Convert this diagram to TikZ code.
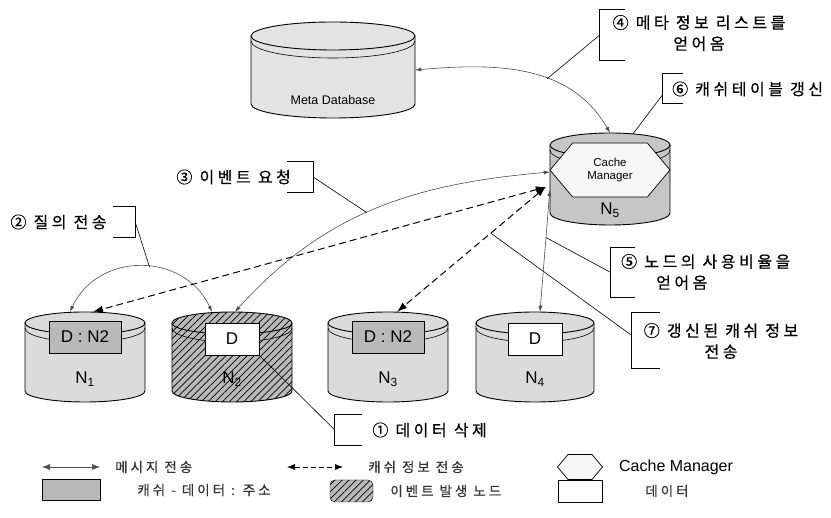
\documentclass[tikz,border=0pt]{standalone}
\usepackage{fontspec}
\setmainfont{Liberation Sans}
\newfontfamily\kr[LetterSpace=22, FakeBold=0.6]{Noto Sans CJK KR}
\usetikzlibrary{arrows.meta, positioning, shapes.symbols, patterns.meta}

% database drum: name, centre, x radius, y radius, fill style
\newcommand{\drum}[5]{%
  \begin{scope}[shift={#2}]
    \filldraw[#5, line width=0.9pt] (-#3,34) -- (-#3,-34)
      arc[start angle=180, end angle=360, x radius=#3, y radius=#4] -- (#3,34);
    \filldraw[#5, line width=0.9pt] (0,34) ellipse[x radius=#3, y radius=#4];
    \draw[line width=0.6pt] (-#3,29) arc[start angle=180, end angle=360, x radius=#3, y radius=#4+3];
  \end{scope}
  \node[inner sep=0pt, minimum width={2*#3pt}, minimum height={68pt+2*#4pt}] (#1) at #2 {};
}

\begin{document}
\begin{tikzpicture}[
    x=1pt, y=1pt,
    msg/.style={{Latex[length=6pt,width=4pt]}-{Latex[length=6pt,width=4pt]}, draw=black!70, line width=0.6pt},
    cache/.style={{Latex[length=10pt,width=7pt]}-{Latex[length=10pt,width=7pt]}, dash pattern=on 7pt off 4pt, line width=1pt},
    lead/.style={draw, line width=0.6pt},
    brk/.style={inner sep=0pt, minimum width=#1},
    brkline/.style={draw, line width=0.7pt},
    lbl/.style={font=\kr\fontsize{16}{21}\selectfont, align=center, inner sep=0pt},
    ltxt/.style={font=\kr\fontsize{13.5}{15}\selectfont, text=black!80, inner sep=0pt},
    hatch/.style={preaction={fill=gray!55}, pattern={Lines[angle=45, distance=5pt, line width=0.7pt]}},
    dbox/.style={draw, line width=0.7pt, fill=white, minimum width=54pt, minimum height=32pt, inner sep=0pt, font=\fontsize{17}{17}\selectfont},
    ckey/.style={dbox, fill=gray!55, minimum width=72pt},
    nlab/.style={inner sep=0pt, font=\fontsize{17}{17}\selectfont},
    mgr/.style={shape=signal, signal to=east and west, signal pointer angle=100, draw, line width=0.7pt, fill=gray!6,
        minimum width=120pt, minimum height=54pt, inner sep=0pt, align=center, font=\fontsize{11.5}{13}\selectfont}
]
\useasboundingbox (0,0) rectangle (831,-518);

% storage drums
\drum{meta}{(333,-70)}{82}{14}{fill=gray!22}
\drum{n5}{(610,-179)}{60}{12}{fill=gray!45}
\drum{n1}{(85,-357)}{60}{11}{fill=gray!28}
\drum{n2}{(232,-357)}{60}{11}{hatch}
\drum{n3}{(388,-357)}{60}{11}{fill=gray!28}
\drum{n4}{(535,-357)}{59}{11}{fill=gray!28}

\node[inner sep=0pt, font=\fontsize{12.5}{13}\selectfont] (metal) at ([yshift=-30pt]meta.center) {Meta Database};
\node[mgr] (cm) at ([yshift=9pt]n5.center) {Cache\\Manager};
\node[nlab] (n5l) at ([yshift=-31pt]n5.center) {N\textsubscript{5}};

% data held on each node
\node[ckey] (d1) at ([yshift=20pt]n1.center) {D : N2};
\node[dbox] (d2) at ([yshift=18pt]n2.center) {D};
\node[ckey] (d3) at ([yshift=20pt]n3.center) {D : N2};
\node[dbox] (d4) at ([yshift=18pt]n4.center) {D};
\node[nlab] (n1l) at ([yshift=-22pt]n1.center) {N\textsubscript{1}};
\node[nlab] (n2l) at ([yshift=-22pt]n2.center) {N\textsubscript{2}};
\node[nlab] (n3l) at ([yshift=-22pt]n3.center) {N\textsubscript{3}};
\node[nlab] (n4l) at ([yshift=-22pt]n4.center) {N\textsubscript{4}};

% messages
\draw[msg] (meta.east) to[out=5, in=120] coordinate[pos=0.6] (c4) (n5.north);
\draw[msg] ([yshift=7pt]n5.west) to[out=185, in=48] coordinate[pos=0.53] (c3) ([xshift=3pt]n2.north);
\draw[msg] ([xshift=-15pt]n1.north) to[out=65, in=115, looseness=1.2] coordinate[pos=0.55] (c2) ([xshift=-20pt]n2.north);
\draw[msg] ([yshift=-11pt]n5.west) -- coordinate[pos=0.39] (c5) ([xshift=5pt]n4.north);

% cache information
\coordinate (hub) at ([shift={(-4,-8)}]n5.west);
\draw[cache] (hub) -- ([xshift=8pt]n1.north);
\draw[cache] (hub) -- coordinate[pos=0.37] (c7) ([xshift=9pt]n3.north);

% step labels
\node[brk=25pt, minimum height=50pt] (k4) at (612.5,-35) {};
\node[brk=20pt, minimum height=29pt] (k6) at (673,-88.5) {};
\node[brk=24pt, minimum height=49pt] (k5) at (623,-272.5) {};
\node[brk=28pt, minimum height=55pt] (k7) at (646,-340.5) {};
\node[brk=27pt, minimum height=30pt] (k1) at (348.5,-430) {};
\node[brk=26pt, minimum height=30pt] (k3) at (300,-177) {};
\node[brk=22pt, minimum height=30pt] (k2) at (124,-222) {};
\foreach \k in {k4,k6,k5,k7,k1}
  \draw[brkline] (\k.north east) -| (\k.south west) -- (\k.south east);
\foreach \k in {k3,k2}
  \draw[brkline] (\k.north west) -| (\k.south east) -- (\k.south west);

\node[lbl] (t4) at (699,-33) {④ 메타 정보 리스트를\\얻어옴};
\node[lbl, anchor=west] (t6) at (672,-89) {⑥ 캐쉬테이블 갱신};
\node[lbl, anchor=west, align=left] (t5) at (621,-272) {⑤ 노드의 사용비율을\\\hspace*{35pt}얻어옴};
\node[lbl] (t7) at (721,-341) {⑦ 갱신된 캐쉬 정보\\전송};
\node[lbl, right=10pt of k1] (t1) {① 데이터 삭제};
\node[lbl, anchor=east] (t3) at (291,-177) {③ 이벤트 요청};
\node[lbl, left=6pt of k2] (t2) {② 질의 전송};

\draw[lead] (k4.west) -- (c4);
\draw[lead] ([yshift=-6pt]k6.west) -- ([xshift=23pt, yshift=-1pt]n5.north);
\draw[lead] (k5.west) -- (c5);
\draw[lead] ([yshift=5pt]k7.west) -- (c7);
\draw[lead] (k1.west) -- (d2.south east);
\draw[lead] (k3.east) -- (c3);
\draw[lead] (k2.east) -- (c2);

% legend
\coordinate (la1) at (42,-467);
\coordinate (la2) at (100,-467);
\draw[msg, {Latex[length=8pt,width=6pt]}-{Latex[length=8pt,width=6pt]}] (la1) -- (la2);
\node[ltxt, right=15pt of la2] (lt1) {메시지 전송};
\coordinate (lb1) at (287,-467);
\coordinate (lb2) at (343,-467);
\draw[msg, {Latex[length=8pt,width=6pt]}-{Latex[length=8pt,width=6pt]}, draw=black, dash pattern=on 5pt off 3pt] (lb1) -- (lb2);
\node[ltxt, right=25pt of lb2] (lt2) {캐쉬 정보 전송};
\node[mgr, minimum width=45pt, minimum height=25pt] (lhex) at (580,-467) {};
\node[inner sep=0pt, right=16pt of lhex, font=\fontsize{16}{16}\selectfont] (lt3) {Cache Manager};

\node[draw, fill=gray!55, minimum width=58pt, minimum height=21pt] (lkey) at (71,-490) {};
\node[ltxt, right=37pt of lkey] (lt4) {캐쉬 - 데이터 : 주소};
\node[draw, rounded corners=5pt, hatch, minimum width=43pt, minimum height=22pt] (lev) at (351.5,-491) {};
\node[ltxt, right=17pt of lev] (lt5) {이벤트 발생 노드};
\node[draw, fill=white, minimum width=44pt, minimum height=22pt] (ldat) at (580,-491) {};
\node[ltxt, right=43pt of ldat] (lt6) {데이터};
\end{tikzpicture}
\end{document}
